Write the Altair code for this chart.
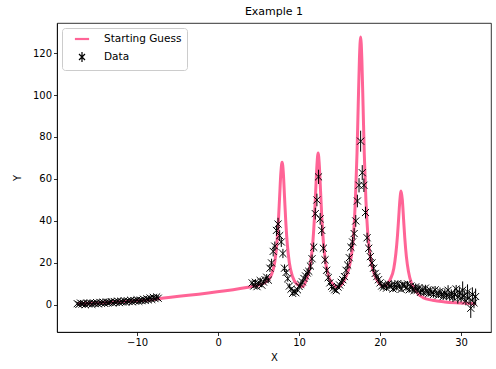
import altair as alt
import pandas as pd

# ---- measured spectrum: left segment ----
x_left = [-17.4, -17.2, -17.0, -16.8, -16.6, -16.4, -16.2, -16.0, -15.8, -15.6,
          -15.4, -15.2, -15.0, -14.8, -14.6, -14.4, -14.2, -14.0, -13.8, -13.6,
          -13.4, -13.2, -13.0, -12.8, -12.6, -12.4, -12.2, -12.0, -11.8, -11.6,
          -11.4, -11.2, -11.0, -10.8, -10.6, -10.4, -10.2, -10.0, -9.8, -9.6,
          -9.4, -9.2, -9.0, -8.8, -8.6, -8.4, -8.2, -8.0, -7.8, -7.6,
          -7.4]
y_left = [0.6, 0.2, 0.9, 0.4, 0.7, 0.1, 0.8, 0.5, 1.0, 0.3,
          0.9, 0.6, 1.1, 0.5, 1.2, 0.8, 1.3, 0.7, 1.4, 1.0,
          1.2, 1.6, 0.9, 1.5, 1.2, 1.8, 1.1, 1.7, 1.4, 2.0,
          1.3, 1.9, 1.6, 2.2, 1.5, 2.1, 1.8, 2.4, 1.7, 2.3,
          2.0, 2.7, 2.1, 2.9, 2.4, 3.3, 2.6, 3.6, 3.0, 3.8,
          3.2]
err_left = [0.8, 0.7, 0.9, 0.8, 0.7, 0.9, 0.8, 0.7, 0.9, 0.8,
            0.8, 0.9, 0.7, 0.8, 0.9, 0.8, 0.7, 0.9, 0.8, 0.8,
            0.9, 0.8, 0.7, 0.9, 0.8, 0.9, 0.8, 0.7, 0.9, 0.8,
            0.8, 0.9, 0.8, 0.9, 0.8, 0.9, 0.8, 0.9, 1.0, 0.9,
            1.0, 0.9, 1.0, 1.1, 0.9, 1.1, 1.0, 1.2, 1.0, 1.2,
            1.1]

# ---- measured spectrum: right segment ----
x_right = [4.2, 4.4, 4.6, 4.8, 5.0, 5.2, 5.4, 5.6, 5.8, 6.0,
           6.2, 6.4, 6.6, 6.8, 7.0, 7.2, 7.4, 7.6, 7.8, 8.0,
           8.2, 8.4, 8.6, 8.8, 9.0, 9.2, 9.4, 9.6, 9.8, 10.0,
           10.2, 10.4, 10.6, 10.8, 11.0, 11.2, 11.4, 11.6, 11.8, 12.0,
           12.2, 12.4, 12.6, 12.8, 13.0, 13.2, 13.4, 13.6, 13.8, 14.0,
           14.2, 14.4, 14.6, 14.8, 15.0, 15.2, 15.4, 15.6, 15.8, 16.0,
           16.2, 16.4, 16.6, 16.8, 17.0, 17.2, 17.4, 17.6, 17.8, 18.0,
           18.2, 18.4, 18.6, 18.8, 19.0, 19.2, 19.4, 19.6, 19.8, 20.0,
           20.2, 20.4, 20.6, 20.8, 21.0, 21.2, 21.4, 21.6, 21.8, 22.0,
           22.2, 22.4, 22.6, 22.8, 23.0, 23.2, 23.4, 23.6, 23.8, 24.0,
           24.2, 24.4, 24.6, 24.8, 25.0, 25.2, 25.4, 25.6, 25.8, 26.0,
           26.2, 26.4, 26.6, 26.8, 27.0, 27.2, 27.4, 27.6, 27.8, 28.0,
           28.2, 28.4, 28.6, 28.8, 29.0, 29.2, 29.4, 29.6, 29.8, 30.0,
           30.2, 30.4, 30.6, 30.8, 31.0, 31.2, 31.4, 31.6, 31.8]
y_right = [10.5, 9.0, 10.8, 8.7, 10.2, 11.6, 9.4, 10.9, 12.0, 13.2,
           11.8, 17.5, 20.0, 25.5, 28.0, 35.5, 38.5, 33.0, 30.0, 24.5,
           17.5, 15.5, 12.5, 9.0, 7.5, 5.5, 6.5, 5.8, 7.2, 8.8,
           9.8, 11.0, 12.6, 13.8, 15.2, 16.0, 18.5, 22.0, 27.5, 43.5,
           50.0, 61.0, 41.0, 35.5, 27.0, 21.5, 16.5, 13.0, 10.5, 8.8,
           8.0, 7.2, 6.8, 8.5, 9.5, 10.8, 12.0, 13.5, 16.5, 19.0,
           22.5, 27.5, 30.0, 34.0, 40.0, 49.5, 57.0, 78.0, 63.0, 57.0,
           44.0, 32.0, 27.0, 23.0, 20.0, 17.5, 15.0, 13.5, 12.0, 10.5,
           9.0, 8.4, 9.6, 8.0, 10.0, 8.8, 9.5, 7.6, 9.8, 8.2,
           10.2, 8.9, 7.4, 9.6, 9.5, 8.0, 10.0, 7.2, 9.0, 7.6,
           6.8, 8.6, 7.0, 8.2, 6.0, 7.4, 5.8, 8.0, 6.4, 5.4,
           7.0, 5.8, 5.0, 7.2, 5.4, 4.6, 6.4, 5.0, 4.0, 5.8,
           4.4, 7.0, 4.0, 5.6, 3.6, 5.0, 7.6, 3.8, 6.0, 3.2,
           7.0, 4.4, 2.0, 6.2, 3.4, -1.6, 5.0, 1.0, 4.0]
err_right = [1.2, 1.0, 1.3, 1.1, 1.2, 1.4, 1.0, 1.2, 1.3, 1.5,
             1.2, 1.8, 2.0, 2.4, 2.2, 2.6, 3.0, 2.6, 2.4, 2.2,
             1.8, 1.6, 1.4, 1.2, 1.0, 1.0, 1.1, 1.0, 1.1, 1.2,
             1.2, 1.3, 1.4, 1.5, 1.6, 1.6, 1.8, 2.0, 2.2, 2.8,
             3.0, 3.4, 2.8, 2.6, 2.2, 2.0, 1.7, 1.5, 1.3, 1.2,
             1.1, 1.0, 1.0, 1.1, 1.2, 1.3, 1.4, 1.5, 1.7, 1.8,
             2.0, 2.2, 2.4, 2.6, 2.8, 3.0, 3.4, 5.0, 3.6, 3.2,
             2.8, 2.4, 2.2, 2.0, 1.8, 1.7, 1.6, 1.5, 1.4, 1.3,
             1.2, 1.2, 1.3, 1.2, 1.4, 1.2, 1.3, 1.4, 1.2, 1.3,
             1.5, 1.3, 1.2, 1.4, 1.3, 1.2, 1.4, 1.2, 1.5, 1.3,
             1.2, 1.6, 1.3, 1.4, 1.2, 1.5, 1.3, 1.6, 1.4, 1.3,
             1.7, 1.4, 1.5, 1.8, 1.4, 1.3, 1.9, 1.5, 1.6, 2.0,
             1.5, 2.4, 1.7, 1.8, 2.2, 2.8, 1.9, 3.2, 2.4, 2.0,
             4.2, 2.6, 2.2, 3.6, 2.8, 4.6, 3.4, 2.6, 3.8]

# ---- starting-guess model curve ----
guess_x = [-17.4, -15.0, -12.5, -10.0, -8.0, -7.4,
           4.2, 5.0, 6.1, 6.6, 7.0, 7.25, 7.45, 7.6, 7.75, 7.9,
           8.05, 8.2, 8.35, 8.55, 8.8, 9.2, 9.7, 10.4,
           11.0, 11.45, 11.7, 11.9, 12.05, 12.2, 12.35, 12.5, 12.65, 12.8,
           13.0, 13.25, 13.65, 14.15, 14.8,
           15.3, 15.8, 16.3, 16.7, 16.95, 17.15, 17.3, 17.45, 17.6,
           17.75, 17.9, 18.05, 18.25, 18.5, 18.9, 19.4, 19.9, 20.4,
           20.9, 21.3, 21.7, 21.95, 22.15, 22.3, 22.45, 22.6,
           22.75, 22.9, 23.05, 23.25, 23.5, 23.9, 24.4, 25.3, 26.5,
           28.0, 30.0, 31.8]
guess_y = [0.5, 0.9, 1.4, 2.0, 2.6, 2.9,
           8.8, 9.4, 11.5, 14.5, 20.5, 29.0, 40.5, 52.0, 63.0, 68.0,
           63.0, 51.5, 40.0, 28.6, 20.0, 13.4, 10.0, 8.7,
           13.2, 20.8, 29.9, 42.0, 54.2, 66.4, 72.4, 66.4, 54.2, 42.0,
           29.9, 20.8, 13.6, 10.0, 8.4,
           10.0, 13.5, 20.0, 32.0, 50.0, 72.0, 95.0, 117.0, 127.6,
           117.0, 95.0, 72.0, 50.0, 33.0, 20.5, 13.5, 10.3, 8.8,
           10.0, 12.5, 17.5, 24.5, 33.0, 41.5, 50.0, 54.3,
           50.0, 41.0, 32.0, 23.0, 16.0, 10.0, 6.5, 3.5, 2.2,
           1.4, 0.9, 0.5]

PINK = "#ff6496"
FONT = "DejaVu Sans"

data_df = pd.DataFrame({
    "x": x_left + x_right,
    "y": y_left + y_right,
    "err": err_left + err_right,
})
data_df["lo"] = data_df["y"] - data_df["err"]
data_df["hi"] = data_df["y"] + data_df["err"]
data_df["series"] = "Data"

guess_df = pd.DataFrame({"x": guess_x, "y": guess_y, "series": "Starting Guess"})

x_scale = alt.Scale(domain=[-19.9, 33.7], nice=False, zero=False)
y_scale = alt.Scale(domain=[-12.9, 134.3], nice=False, zero=False)

x_axis = alt.Axis(title="X", values=[-10, 0, 10, 20, 30], format="d")
y_axis = alt.Axis(title="Y", values=[0, 20, 40, 60, 80, 100, 120], format="d")

# legend glyphs: a thick filled bar for the model, a thin "x" with an error bar for the data
LINE_GLYPH = "M-1.3,-0.1L1.3,-0.1L1.3,0.1L-1.3,0.1Z"
X_GLYPH = "M-0.6,-0.6L0.6,0.6M-0.6,0.6L0.6,-0.6M0,-1L0,1"

color = alt.Color(
    "series:N",
    scale=alt.Scale(domain=["Starting Guess", "Data"], range=[PINK, "black"]),
    legend=alt.Legend(
        title=None,
        orient="none",
        legendX=5,
        legendY=5,
        fillColor="white",
        strokeColor="#cccccc",
        cornerRadius=3,
        padding=5,
        rowPadding=4,
        symbolOffset=9,
        labelOffset=16,
        labelFont=FONT,
        labelFontSize=10.5,
        labelColor="black",
        symbolSize=100,
        symbolStrokeWidth=1.2,
        symbolType={"expr": "datum.value === 'Data' ? '" + X_GLYPH + "' : '" + LINE_GLYPH + "'"},
        symbolFillColor={"expr": "datum.value === 'Data' ? 'transparent' : '" + PINK + "'"},
    ),
)

line = alt.Chart(guess_df).mark_line(strokeWidth=3, interpolate="monotone").encode(
    x=alt.X("x:Q", scale=x_scale, axis=x_axis),
    y=alt.Y("y:Q", scale=y_scale, axis=y_axis),
    color=color,
)

bars = alt.Chart(data_df).mark_rule(color="black", strokeWidth=1).encode(
    x=alt.X("x:Q", scale=x_scale),
    y=alt.Y("lo:Q", scale=y_scale),
    y2="hi:Q",
)

points = alt.Chart(data_df).mark_point(
    shape="M-1,-1L1,1M-1,1L1,-1", size=50, filled=False, strokeWidth=1, opacity=1
).encode(
    x=alt.X("x:Q", scale=x_scale),
    y=alt.Y("y:Q", scale=y_scale),
    color=color,
)

chart = (
    alt.layer(line, bars, points)
    .properties(
        width=434,
        height=309,
        title=alt.TitleParams("Example 1", font=FONT, fontSize=11, fontWeight="normal",
                              color="black", anchor="middle", offset=6),
        autosize=alt.AutoSizeParams(type="none"),
        padding={"left": 57, "top": 23, "right": 5, "bottom": 37},
    )
    .configure_view(stroke="black", strokeWidth=0.8)
    .configure_axis(
        grid=False,
        domainColor="black",
        domainWidth=0.8,
        tickColor="black",
        tickWidth=0.8,
        tickSize=3.5,
        labelFont=FONT,
        labelFontSize=10,
        labelColor="black",
        labelPadding=2,
        titleFont=FONT,
        titleFontSize=10,
        titleFontWeight="normal",
        titleColor="black",
    )
    .configure_axisX(titlePadding=5)
    .configure_axisY(titlePadding=10)
)

chart.save("out.html", embed_options={"renderer": "svg", "actions": False})
